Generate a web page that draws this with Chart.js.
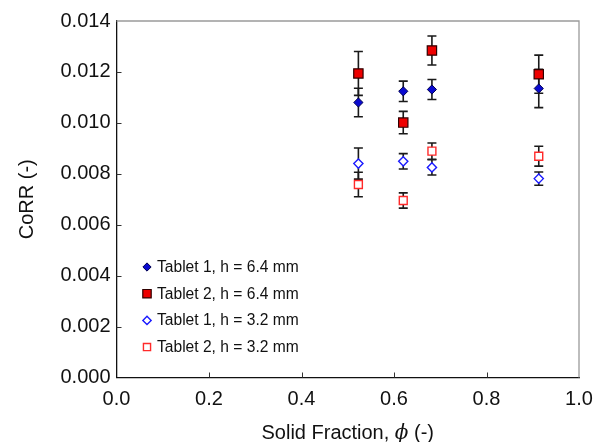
<!DOCTYPE html>
<html><head><meta charset="utf-8">
<script src="https://cdn.jsdelivr.net/npm/chart.js@4/dist/chart.umd.min.js"></script>
<style>html,body{margin:0;padding:0;background:#fff}#wrap{width:595px;height:442px;position:relative}</style>
</head><body><div id="wrap"><canvas id="c" width="595" height="442"></canvas></div>
<script>
// ---- data ----
const phi = [0.523, 0.620, 0.682, 0.913];
const t1h64 = [0.01080, 0.01124, 0.01131, 0.01135];
const t1h64Err = [0.00056, 0.00040, 0.00039, 0.00075];
const t2h64 = [0.01194, 0.01001, 0.01284, 0.01191];
const t2h64Err = [0.00086, 0.00044, 0.00057, 0.00075];
const t1h32 = [0.00840, 0.00849, 0.00825, 0.00781];
const t1h32Err = [0.00061, 0.00030, 0.00030, 0.00026];
const t2h32 = [0.00758, 0.00695, 0.00889, 0.00869];
const t2h32Err = [0.00048, 0.00030, 0.00032, 0.00039];
const seriesNames = ['Tablet 1, h = 6.4 mm', 'Tablet 2, h = 6.4 mm', 'Tablet 1, h = 3.2 mm', 'Tablet 2, h = 3.2 mm'];
const xTicks = [0.0, 0.2, 0.4, 0.6, 0.8, 1.0];
const yTicks = [0.000, 0.002, 0.004, 0.006, 0.008, 0.010, 0.012, 0.014];

const FONT = '"Liberation Sans", Arial, sans-serif';
const pts = (ys) => phi.map((x, i) => ({x, y: ys[i]}));

const styles = [
  {pointStyle: 'rectRot', pointRadius: 4.6, backgroundColor: '#0a0ad0', borderColor: '#000050', pointBorderWidth: 1},
  {pointStyle: 'rect', pointRadius: 6.6, backgroundColor: '#ee0000', borderColor: '#300000', pointBorderWidth: 1.2},
  {pointStyle: 'rectRot', pointRadius: 4.6, backgroundColor: '#ffffff', borderColor: '#1a1aff', pointBorderWidth: 1.4},
  {pointStyle: 'rect', pointRadius: 5.6, backgroundColor: '#ffffff', borderColor: '#ff2a2a', pointBorderWidth: 1.4},
];
const vals = [t1h64, t2h64, t1h32, t2h32];
const errs = [t1h64Err, t2h64Err, t1h32Err, t2h32Err];

const datasets = vals.map((v, k) => ({
  label: seriesNames[k],
  data: pts(v),
  errors: errs[k],
  showLine: false,
  pointStyle: styles[k].pointStyle,
  pointRadius: styles[k].pointRadius,
  pointHoverRadius: styles[k].pointRadius,
  pointBackgroundColor: styles[k].backgroundColor,
  pointBorderColor: styles[k].borderColor,
  pointBorderWidth: styles[k].pointBorderWidth,
  backgroundColor: styles[k].backgroundColor,
  borderColor: styles[k].borderColor,
}));

const errorBars = {
  id: 'errorBars',
  beforeDatasetsDraw(chart) {
    const {ctx, scales: {x, y}} = chart;
    ctx.save();
    ctx.strokeStyle = '#1a1a1a';
    ctx.lineWidth = 1.6;
    chart.data.datasets.forEach(ds => {
      ds.data.forEach((p, i) => {
        const px = x.getPixelForValue(p.x);
        const top = y.getPixelForValue(p.y + ds.errors[i]);
        const bot = y.getPixelForValue(p.y - ds.errors[i]);
        ctx.beginPath();
        ctx.moveTo(px, top); ctx.lineTo(px, bot);
        ctx.moveTo(px - 4.5, top); ctx.lineTo(px + 4.5, top);
        ctx.moveTo(px - 4.5, bot); ctx.lineTo(px + 4.5, bot);
        ctx.stroke();
      });
    });
    ctx.restore();
  }
};

const frame = {
  id: 'frame',
  beforeDatasetsDraw(chart) {
    const {ctx, chartArea: a} = chart;
    ctx.save();
    ctx.strokeStyle = '#9a9a9a';
    ctx.lineWidth = 1.3;
    ctx.beginPath();
    ctx.moveTo(a.left, a.top); ctx.lineTo(a.right, a.top); ctx.lineTo(a.right, a.bottom);
    ctx.stroke();
    ctx.restore();
  }
};

const decor = {
  id: 'decor',
  afterDraw(chart) {
    const {ctx, chartArea: a, scales: {x, y}} = chart;
    ctx.save();
    // inner tick marks
    ctx.strokeStyle = '#333';
    ctx.lineWidth = 1;
    yTicks.forEach(v => {
      if (v === yTicks[0] || v === yTicks[yTicks.length - 1]) return;
      const py = Math.round(y.getPixelForValue(v)) + 0.5;
      ctx.beginPath(); ctx.moveTo(a.left, py); ctx.lineTo(a.left + 5, py); ctx.stroke();
    });
    xTicks.forEach(v => {
      if (v === xTicks[0] || v === xTicks[xTicks.length - 1]) return;
      const px = Math.round(x.getPixelForValue(v)) + 0.5;
      ctx.beginPath(); ctx.moveTo(px, a.bottom); ctx.lineTo(px, a.bottom - 5); ctx.stroke();
    });
    // legend
    const lx = 147, ly0 = 267, dy = 26.7;
    chart.data.datasets.forEach((ds, k) => {
      const yy = ly0 + k * dy;
      ctx.fillStyle = ds.pointBackgroundColor;
      ctx.strokeStyle = ds.pointBorderColor;
      ctx.lineWidth = ds.pointBorderWidth;
      Chart.helpers.drawPoint(ctx, {pointStyle: ds.pointStyle, radius: ds.pointRadius * 0.9, rotation: 0, borderWidth: ds.pointBorderWidth}, lx, yy);
      ctx.fillStyle = '#111';
      ctx.font = '15.6px ' + FONT;
      ctx.textBaseline = 'middle';
      ctx.textAlign = 'left';
      ctx.fillText(ds.label, lx + 10, yy + 0.5);
    });
    // x axis title with italic phi
    const parts = [
      {t: 'Solid Fraction, ', f: '20px ' + FONT},
      {t: '\u03D5', f: 'italic 20px "DejaVu Serif", serif'},
      {t: ' (-)', f: '20px ' + FONT},
    ];
    let total = 0;
    parts.forEach(p => { ctx.font = p.f; p.w = ctx.measureText(p.t).width; total += p.w; });
    let cx = (a.left + a.right) / 2 - total / 2;
    ctx.fillStyle = '#111';
    ctx.textBaseline = 'alphabetic';
    parts.forEach(p => { ctx.font = p.f; ctx.fillText(p.t, cx, 439); cx += p.w; });
    ctx.restore();
  }
};

new Chart(document.getElementById('c'), {
  type: 'scatter',
  data: {datasets},
  options: {
    responsive: false,
    animation: false,
    devicePixelRatio: 1,
    layout: {padding: {top: 21, right: 16, left: 0, bottom: 0}},
    plugins: {legend: {display: false}, tooltip: {enabled: false}},
    scales: {
      x: {
        type: 'linear', min: 0, max: 1,
        afterBuildTicks: s => { s.ticks = xTicks.map(v => ({value: v})); },
        afterFit: s => { s.height = 64.5; s.paddingLeft = 0; s.paddingRight = 0; },
        grid: {display: true, drawOnChartArea: false, drawTicks: false},
        border: {display: true, color: '#111', width: 1.3},
        ticks: {padding: 10, color: '#111', font: {family: FONT, size: 20}, callback: v => v.toFixed(1)},
      },
      y: {
        type: 'linear', min: 0, max: 0.014,
        afterBuildTicks: s => { s.ticks = yTicks.map(v => ({value: v})); },
        afterFit: s => { s.width = 116.5; s.paddingTop = 0; s.paddingBottom = 0; },
        grid: {display: true, drawOnChartArea: false, drawTicks: false},
        border: {display: true, color: '#111', width: 1.3},
        ticks: {padding: 6, color: '#111', font: {family: FONT, size: 20}, callback: v => v.toFixed(3)},
        title: {display: true, text: 'CoRR (-)', color: '#111', font: {family: FONT, size: 20}, padding: {top: 15, bottom: 0}},
      },
    },
  },
  plugins: [frame, errorBars, decor],
});
</script>
</body></html>
